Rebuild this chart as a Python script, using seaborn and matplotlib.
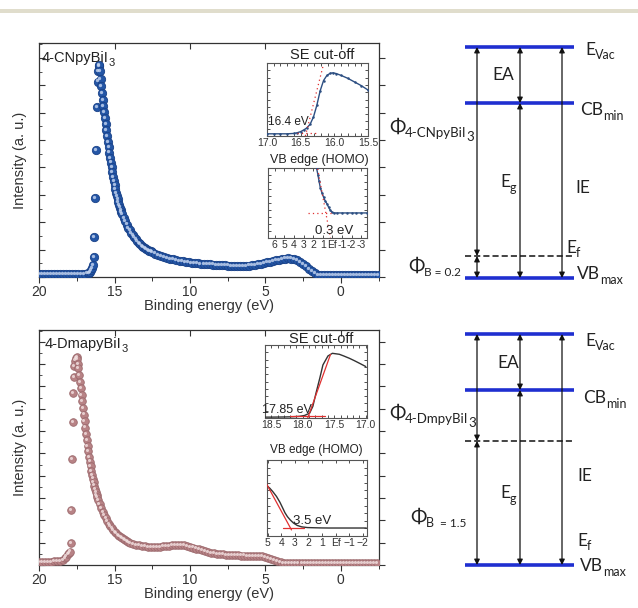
import numpy as np
import pandas as pd
import matplotlib
matplotlib.use("Agg")
import matplotlib.pyplot as plt
import seaborn as sns
from matplotlib import transforms as mtrans
from matplotlib.ticker import MultipleLocator, NullLocator, FixedLocator
from matplotlib.patches import Rectangle

# ---------------- data ----------------
# 4-CNpyBiI3 UPS spectrum: (binding energy eV, normalised intensity)
cn_points = [
    (20.0, .012), (19.8, .012), (19.6, .012), (19.4, .012), (19.2, .012), (19.0, .012), (18.8, .012),
    (18.6, .012), (18.4, .012), (18.2, .012), (18.0, .012), (17.8, .012), (17.6, .012), (17.4, .012),
    (17.2, .013), (17.0, .013), (16.8, .015), (16.70, .018), (16.62, .022), (16.55, .03), (16.48, .04),
    (16.43, .052), (16.39, .084), (16.34, .172), (16.28, .338), (16.23, .543), (16.18, .728),
    (16.13, .835), (16.09, .88), (16.05, .9), (16.02, .905),
    (15.98, .88), (15.94, .845), (15.90, .815), (15.85, .785), (15.80, .757), (15.75, .73), (15.70, .704),
    (15.65, .678), (15.60, .652), (15.55, .627), (15.50, .602), (15.45, .578), (15.40, .555), (15.35, .532),
    (15.30, .51), (15.25, .489), (15.20, .468), (15.15, .448), (15.10, .428), (15.05, .41), (15.00, .392),
    (14.95, .375), (14.90, .36), (14.85, .345), (14.80, .332), (14.75, .32), (14.70, .308), (14.65, .297),
    (14.60, .287), (14.55, .278), (14.50, .269),
    (14.4, .253), (14.3, .238), (14.2, .224), (14.1, .211), (14.0, .199), (13.9, .188), (13.8, .178),
    (13.7, .169), (13.6, .161), (13.5, .153), (13.4, .146), (13.3, .14), (13.2, .134), (13.1, .129),
    (13.0, .124), (12.9, .12), (12.8, .116), (12.7, .112), (12.6, .109), (12.5, .106),
    (12.3, .1), (12.1, .095), (11.9, .09), (11.7, .086), (11.5, .082), (11.3, .078), (11.1, .075),
    (10.9, .072), (10.7, .069), (10.5, .067), (10.3, .065), (10.1, .063), (9.9, .061), (9.7, .06),
    (9.5, .058), (9.3, .057), (9.1, .056), (8.9, .055), (8.7, .054), (8.5, .053), (8.3, .052),
    (8.1, .051), (7.9, .05), (7.7, .05), (7.5, .049), (7.3, .048), (7.1, .048), (6.9, .047),
    (6.7, .047), (6.5, .046), (6.3, .047), (6.1, .049), (5.9, .051), (5.7, .052), (5.5, .054),
    (5.3, .056), (5.1, .059), (4.9, .062), (4.7, .065), (4.5, .068), (4.3, .071), (4.1, .074),
    (3.9, .077), (3.7, .079), (3.5, .08), (3.3, .079), (3.1, .076), (2.9, .071), (2.7, .065),
    (2.5, .057), (2.3, .047), (2.1, .035), (1.9, .024), (1.7, .015), (1.5, .01), (1.3, .008),
    (1.1, .008), (0.9, .008), (0.7, .008), (0.5, .008), (0.3, .008), (0.1, .008), (-0.1, .008),
    (-0.3, .008), (-0.5, .008), (-0.7, .008), (-0.9, .008), (-1.1, .008), (-1.3, .008), (-1.5, .008),
    (-1.7, .008), (-1.9, .008), (-2.1, .008), (-2.3, .008), (-2.5, .008),
]
# 4-DmapyBiI3 UPS spectrum
dm_points = [
    (20.0, .014), (19.8, .014), (19.6, .014), (19.4, .014), (19.2, .014), (19.0, .015), (18.8, .016),
    (18.6, .018), (18.45, .022), (18.3, .028), (18.2, .036), (18.1, .045), (18.02, .052), (17.96, .057),
    (17.91, .092), (17.87, .234), (17.83, .45), (17.79, .61), (17.76, .733), (17.72, .80), (17.67, .845),
    (17.62, .87), (17.57, .882), (17.52, .885), (17.48, .875),
    (17.44, .855), (17.40, .838), (17.35, .81), (17.30, .78), (17.25, .752), (17.20, .724), (17.15, .696),
    (17.10, .668), (17.05, .64), (17.00, .612), (16.95, .585), (16.90, .558), (16.85, .532), (16.80, .507),
    (16.75, .483), (16.70, .46), (16.65, .44), (16.60, .42), (16.55, .401), (16.50, .384), (16.45, .368),
    (16.40, .352), (16.35, .338), (16.30, .324), (16.25, .311), (16.20, .299), (16.15, .288), (16.10, .277),
    (16.0, .258), (15.9, .241), (15.8, .226), (15.7, .212), (15.6, .199), (15.5, .187), (15.4, .176),
    (15.3, .166), (15.2, .157), (15.1, .149), (15.0, .142), (14.9, .135), (14.8, .129), (14.7, .123),
    (14.6, .118), (14.5, .113), (14.4, .109), (14.3, .105), (14.2, .101), (14.1, .098), (14.0, .095),
    (13.8, .09), (13.6, .086), (13.4, .083), (13.2, .081), (13.0, .079), (12.8, .077), (12.6, .076),
    (12.4, .076), (12.2, .077), (12.0, .078), (11.8, .079), (11.6, .081), (11.4, .082), (11.2, .083),
    (11.0, .084), (10.8, .084), (10.6, .084), (10.4, .083), (10.2, .081), (10.0, .078), (9.8, .074),
    (9.6, .07), (9.4, .066), (9.2, .062), (9.0, .058), (8.8, .055), (8.6, .052), (8.4, .05),
    (8.2, .048), (8.0, .046), (7.8, .045), (7.6, .044), (7.4, .043), (7.2, .042), (7.0, .041),
    (6.8, .041), (6.6, .04), (6.4, .04), (6.2, .039), (6.0, .039), (5.8, .039), (5.6, .039),
    (5.4, .038), (5.2, .037), (5.0, .035), (4.8, .031), (4.6, .026), (4.4, .021), (4.2, .016),
    (4.0, .012), (3.8, .009), (3.6, .008), (3.4, .007), (3.2, .007), (3.0, .007), (2.8, .007),
    (2.6, .007), (2.4, .007), (2.2, .007), (2.0, .007), (1.8, .007), (1.6, .007), (1.4, .007),
    (1.2, .007), (1.0, .007), (0.8, .007), (0.6, .007), (0.4, .007), (0.2, .007), (0.0, .007),
    (-0.2, .007), (-0.4, .007), (-0.6, .007), (-0.8, .007), (-1.0, .007), (-1.2, .007), (-1.4, .007),
    (-1.6, .007), (-1.8, .007), (-2.0, .007), (-2.2, .007), (-2.4, .007),
]

# insets: secondary-electron cut-off and valence-band edge
cn_se_be = [17.0, 16.9, 16.8, 16.7, 16.6, 16.55, 16.5, 16.45, 16.41, 16.36, 16.31, 16.26, 16.21,
            16.16, 16.11, 16.06, 16.02, 15.97, 15.9, 15.8, 15.7, 15.6, 15.5]
cn_se_int = [.03, .03, .03, .03, .035, .045, .06, .085, .11, .16, .26, .42, .62,
             .76, .83, .86, .865, .855, .83, .79, .74, .69, .63]
cn_se_fit_be = [16.43, 16.17]
cn_se_fit_int = [0.0, 0.95]
cn_se_base_be = [16.55, 16.25]
cn_se_base_int = [0.04, 0.04]

cn_vb_be = [1.65, 1.5, 1.4, 1.26, 1.1, 0.91, 0.75, 0.56, 0.4, 0.21, 0.05, -0.14, -0.5, -1.0,
            -1.5, -2.0, -2.5, -3.0, -3.6]
cn_vb_int = [1.0, .9, .82, .72, .65, .58, .53, .488, .44, .395, .37, .358, .358, .358,
             .358, .358, .358, .358, .358]
cn_vb_fit_be = [1.62, 0.2]
cn_vb_fit_int = [1.05, 0.0]
cn_vb_base_be = [2.5, -0.1]
cn_vb_base_int = [0.358, 0.358]

dm_se_be = [18.6, 18.5, 18.4, 18.3, 18.2, 18.1, 18.05, 17.97, 17.89, 17.84, 17.79, 17.73, 17.68,
            17.6, 17.53, 17.42, 17.35, 17.26, 17.18, 17.1, 17.0]
dm_se_int = [.012, .012, .013, .014, .016, .02, .023, .035, .068, .159, .341, .545, .727,
             .85, .886, .873, .85, .818, .785, .75, .705]
dm_se_fit_be = [17.93, 17.56]
dm_se_fit_int = [-0.02, 0.87]
dm_se_base_be = [18.2, 17.65]
dm_se_base_int = [0.023, 0.023]

dm_vb_be = [5.1, 4.85, 4.62, 4.35, 4.1, 3.9, 3.73, 3.55, 3.34, 3.1, 2.83, 2.5, 2.07, 1.5,
            1.0, 0.5, 0.0, -0.5, -1.0, -1.5, -2.25]
dm_vb_int = [.667, .63, .583, .52, .444, .37, .306, .255, .211, .17, .139, .12, .111, .108,
             .106, .105, .105, .105, .105, .105, .105]
dm_vb_fit_be = [5.1, 3.25]
dm_vb_fit_int = [0.69, 0.08]
dm_vb_base_be = [3.9, 2.3]
dm_vb_base_int = [0.1, 0.1]

# energy-level diagrams (schematic level heights, pixels from top of figure)
cn_levels = {"vac": 47, "cb": 103, "ef": 256, "vb": 278}
dm_levels = {"vac": 334, "cb": 390, "ef": 441, "vb": 565}
arrow_cols = [477, 520, 562]
level_span = (465, 574)

# ---------------- figure ----------------
W, H = 638, 608
sns.set_theme(style="white")
plt.rcParams['font.family'] = ['Liberation Sans', 'DejaVu Sans']
plt.rcParams['axes.edgecolor'] = '#333333'
plt.rcParams['text.color'] = '#222222'
plt.rcParams['xtick.color'] = '#333333'
plt.rcParams['ytick.color'] = '#333333'

fig = plt.figure(figsize=(W / 100, H / 100), dpi=100)
fig.patch.set_facecolor('white')
pix = mtrans.Affine2D().scale(1, -1).translate(0, H)


def px_axes(x0, y0, x1, y1, **kw):
    return fig.add_axes([x0 / W, 1 - y1 / H, (x1 - x0) / W, (y1 - y0) / H], **kw)


# beige band at the very top
fig.patches.append(Rectangle((0, 9), W, 4, transform=pix, facecolor='#e0ddcc',
                             edgecolor='none', zorder=0))


def main_panel(y0, y1, pts, color, edge, hi, s, ystep):
    ax = px_axes(39.3, y0, 378.5, y1)
    df = pd.DataFrame(pts, columns=["be", "intensity"])
    sns.scatterplot(data=df, x="be", y="intensity", ax=ax, s=s, color=color,
                    edgecolor=edge, linewidth=0.6, zorder=3, legend=False)
    off = mtrans.offset_copy(ax.transData, fig=fig, x=-0.8, y=0.8, units='points')
    ax.scatter(df["be"], df["intensity"], s=s * 0.16, color=hi, alpha=0.8,
               linewidth=0, zorder=4, transform=off)
    ax.set_xlim(20, -2.5)
    ax.set_ylim(0, 1)
    ax.set_xlabel("")
    ax.set_ylabel("")
    for sp in ax.spines.values():
        sp.set_color('#333333')
        sp.set_linewidth(0.9)
    ax.xaxis.set_minor_locator(MultipleLocator(2.5))
    ax.yaxis.set_major_locator(MultipleLocator(ystep))
    ax.yaxis.set_minor_locator(MultipleLocator(ystep / 2))
    ax.set_xticks([20, 15, 10, 5, 0])
    ax.set_xticklabels(['20', '15', '10', '5', '0'])
    ax.tick_params(axis='x', which='major', direction='out', length=4, width=0.8,
                   labelsize=10, pad=2, bottom=True, top=False, colors='#333333')
    ax.tick_params(axis='x', which='minor', direction='out', length=3, width=0.7,
                   bottom=True, top=False)
    ax.tick_params(axis='y', which='major', direction='in', length=4, width=0.8,
                   left=True, right=False, labelleft=False)
    ax.tick_params(axis='y', which='minor', direction='in', length=2, width=0.6,
                   left=True, right=False)
    sec = ax.secondary_xaxis('top')
    sec.set_xticks([15, 10, 5, 0])
    sec.tick_params(direction='in', length=4, width=0.8, labeltop=False)
    sec.xaxis.set_minor_locator(NullLocator())
    sec.spines['top'].set_visible(False)
    secy = ax.secondary_yaxis('right')
    secy.yaxis.set_major_locator(MultipleLocator(ystep))
    secy.tick_params(direction='out', length=4, width=0.8, labelright=False)
    secy.spines['right'].set_visible(False)
    fig.text(20, (y0 + y1) / 2, "Intensity (a. u.)", transform=pix, rotation=90,
             ha='center', va='center', fontsize=10.5, color='#333333')
    fig.text(209, y1 + 29, "Binding energy (eV)", transform=pix, ha='center',
             va='center', fontsize=10.5, color='#333333')
    return ax


ax_top = main_panel(43, 277, cn_points, '#2456a6', '#1a4288', '#c9d8f2', 36, 0.117)
ax_bot = main_panel(330, 565, dm_points, '#b88386', '#9c6a6e', '#f3e2e2', 30, 0.095)


def inset(box, xlim, ylim, be, inten, color, fit_be, fit_int, base_be, base_int,
          fit_style, ticks, labels, minor, marker):
    ax = px_axes(*box)
    ax.set_facecolor('white')
    df = pd.DataFrame({"be": be, "intensity": inten})
    sns.lineplot(data=df, x="be", y="intensity", ax=ax, color=color, lw=1.0,
                 marker=marker, markersize=1.8, markeredgewidth=0, zorder=3)
    ax.plot(fit_be, fit_int, color='#e03030', lw=0.9, ls=fit_style, zorder=4)
    ax.plot(base_be, base_int, color='#e03030', lw=0.9, ls=fit_style, zorder=4)
    ax.set_xlim(*xlim)
    ax.set_ylim(*ylim)
    ax.set_xlabel("")
    ax.set_ylabel("")
    for sp in ax.spines.values():
        sp.set_color('#555555')
        sp.set_linewidth(0.8)
    ax.set_xticks(ticks)
    ax.set_xticklabels(labels)
    ax.xaxis.set_minor_locator(MultipleLocator(minor))
    ax.yaxis.set_major_locator(NullLocator())
    ax.yaxis.set_minor_locator(MultipleLocator(0.1))
    ax.tick_params(which='both', direction='in', top=True, right=True, left=True,
                   bottom=True, length=2, width=0.6, labelsize=7.5, pad=1.5,
                   colors='#333333')
    return ax


dot = (0, (1, 2.5))
inset((267, 63, 368, 136), (17.0, 15.5), (0, 1), cn_se_be, cn_se_int, '#2d4f82',
      cn_se_fit_be, cn_se_fit_int, cn_se_base_be, cn_se_base_int, dot,
      [17.0, 16.5, 16.0, 15.5], ['17.0', '16.5', '16.0', '15.5'], 0.1, 'o')
inset((268, 168, 367, 238), (6.7, -3.6), (0, 1), cn_vb_be, cn_vb_int, '#2d4f82',
      cn_vb_fit_be, cn_vb_fit_int, cn_vb_base_be, cn_vb_base_int, dot,
      [6, 5, 4, 3, 2, 1, 0, -1, -2, -3],
      ['6', '5', '4', '3', '2', '1', 'Ef', '-1', '-2', '-3'], 1, 'o')
inset((265, 345, 367, 418), (18.6, 16.98), (0, 1), dm_se_be, dm_se_int, '#333333',
      dm_se_fit_be, dm_se_fit_int, dm_se_base_be, dm_se_base_int, '-',
      [18.5, 18.0, 17.5, 17.0], ['18.5', '18.0', '17.5', '17.0'], 0.1, None)
inset((267, 460, 367, 536), (5.05, -2.3), (0, 1), dm_vb_be, dm_vb_int, '#333333',
      dm_vb_fit_be, dm_vb_fit_int, dm_vb_base_be, dm_vb_base_int, '-',
      [5, 4, 3, 2, 1, 0, -1, -2],
      ['5', '4', '3', '2', '1', 'Ef', '\u22121', '\u22122'], 1, None)

# ---------------- text helpers ----------------
renderer = fig.canvas.get_renderer()


def rich(x, y, parts, family=None, color='#222222'):
    cx = x
    for s, size, dy in parts:
        kw = dict(transform=pix, fontsize=size, va='baseline', ha='left', color=color)
        if family is not None:
            kw['family'] = family
        t = fig.text(cx, y + dy, s, **kw)
        cx += t.get_window_extent(renderer).width
    return cx


# panel texts
rich(42, 62, [("4-CNpyBiI", 10.5, 0), ("3", 8, 3.5)])
rich(45, 348, [("4-DmapyBiI", 10.5, 0), ("3", 8, 3.5)])
fig.text(322, 59, "SE cut-off", transform=pix, ha='center', va='baseline', fontsize=10.5)
fig.text(319, 163, "VB edge (HOMO)", transform=pix, ha='center', va='baseline', fontsize=9)
fig.text(321, 343, "SE cut-off", transform=pix, ha='center', va='baseline', fontsize=10.5)
fig.text(316, 453, "VB edge (HOMO)", transform=pix, ha='center', va='baseline', fontsize=8.5)
fig.text(268, 125, "16.4 eV", transform=pix, ha='left', va='baseline', fontsize=8.5)
fig.text(315, 234, "0.3 eV", transform=pix, ha='left', va='baseline', fontsize=9.5)
fig.text(262, 413, "17.85 eV", transform=pix, ha='left', va='baseline', fontsize=9)
fig.text(293, 524, "3.5 eV", transform=pix, ha='left', va='baseline', fontsize=9.5)

# ---------------- energy level diagrams ----------------
ov = fig.add_axes([0, 0, 1, 1], facecolor='none')
ov.set_xlim(0, W)
ov.set_ylim(H, 0)
ov.axis('off')

LAT = ['Lato', 'DejaVu Sans']
BLUE = '#1f2fd0'


def arrow(x, ya, yb):
    ov.annotate('', xy=(x, yb), xytext=(x, ya),
                arrowprops=dict(arrowstyle='<|-|>', lw=0.9, color='#111111',
                                mutation_scale=8, shrinkA=0, shrinkB=0))


def diagram(lv):
    for key in ("vac", "cb", "vb"):
        ov.plot(level_span, [lv[key], lv[key]], color=BLUE, lw=2.6,
                solid_capstyle='butt', zorder=3)
    ov.plot([level_span[0], level_span[1] - 2], [lv["ef"], lv["ef"]], color='#111111',
            lw=1.1, ls=(0, (4, 2)), zorder=3)
    arrow(arrow_cols[0], lv["vac"], lv["ef"])
    arrow(arrow_cols[0], lv["ef"], lv["vb"])
    arrow(arrow_cols[1], lv["vac"], lv["cb"])
    arrow(arrow_cols[1], lv["cb"], lv["vb"])
    arrow(arrow_cols[2], lv["vac"], lv["vb"])


diagram(cn_levels)
diagram(dm_levels)

M, S = 12.5, 9
# top diagram labels
rich(585, 55, [("E", M, 0), ("Vac", S, 4)], LAT)
fig.text(492, 80, "EA", transform=pix, fontsize=M, va='baseline', family=LAT)
rich(580, 115, [("CB", M, 0), ("min", S, 5)], LAT)
rich(389, 133, [("\u03a6", 14, 0), ("4-CNpyBiI", 9.5, 4), ("3", 9.5, 8)], LAT)
rich(500, 187, [("E", M, 0), ("g", S, 5)], LAT)
fig.text(575, 193, "IE", transform=pix, fontsize=M, va='baseline', family=LAT)
rich(566, 253, [("E", M, 0), ("f", S, 4)], LAT)
rich(408, 272, [("\u03a6", 14, 0), ("B = 0.2", 8.5, 4)], LAT)
rich(577, 279, [("VB", M, 0), ("max", S, 5)], LAT)
# bottom diagram labels
rich(585, 346, [("E", M, 0), ("Vac", S, 4)], LAT)
fig.text(497, 368, "EA", transform=pix, fontsize=M, va='baseline', family=LAT)
rich(583, 403, [("CB", M, 0), ("min", S, 5)], LAT)
rich(389, 419, [("\u03a6", 14, 0), ("4-DmpyBiI", 9.5, 4), ("3", 9.5, 8)], LAT)
fig.text(577, 481, "IE", transform=pix, fontsize=M, va='baseline', family=LAT)
rich(500, 498, [("E", M, 0), ("g", S, 5)], LAT)
rich(410, 523, [("\u03a6", 14, 0), ("B", 9, 4), ("  = 1.5", 8.5, 4)], LAT)
rich(577, 546, [("E", M, 0), ("f", S, 4)], LAT)
rich(580, 571, [("VB", M, 0), ("max", S, 5)], LAT)

fig.savefig("out.png", dpi=100, facecolor='white')
